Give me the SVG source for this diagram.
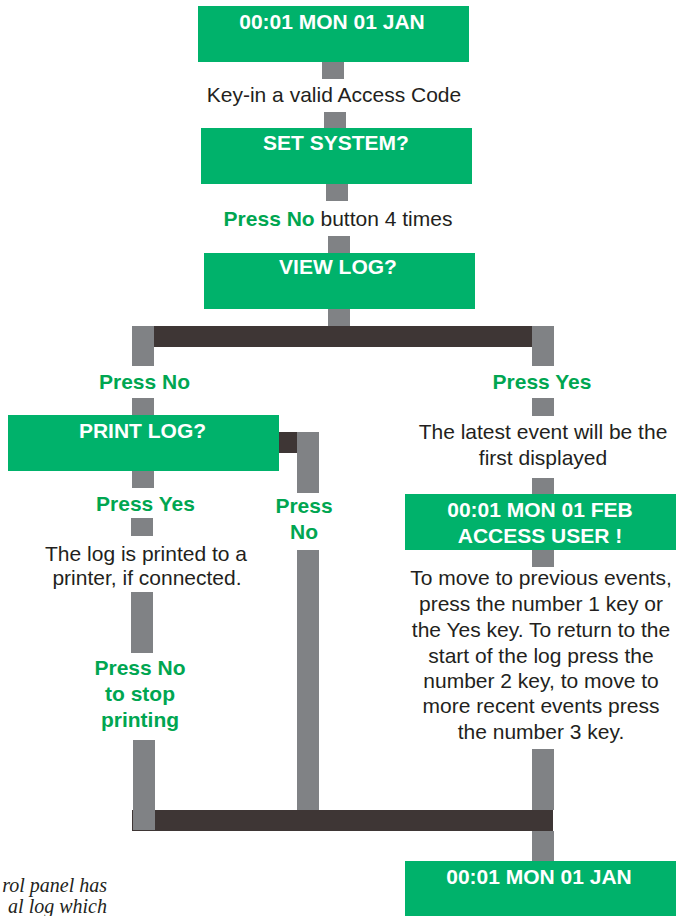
<svg xmlns="http://www.w3.org/2000/svg" width="679" height="916" viewBox="0 0 679 916">
<style>
.box{fill:#00b26b}
.t{font-family:"Liberation Sans",Arial,sans-serif;font-size:21px;text-anchor:middle}
.w{fill:#ffffff;font-weight:bold}
.g{fill:#00a651;font-weight:bold}
.d{fill:#231f20}
.c{fill:#808285}
.bar{fill:#3e3635}
.note{font-family:"Liberation Serif","Times New Roman",serif;font-style:italic;font-size:20px;fill:#231f20;text-anchor:end}
</style>
<rect width="679" height="916" fill="#ffffff"/>
<g id="connectors">
<rect class="c" x="322" y="60" width="22" height="19"/>
<rect class="c" x="324" y="112" width="22" height="17"/>
<rect class="c" x="326" y="183" width="22" height="18"/>
<rect class="c" x="328" y="236" width="22" height="18"/>
<rect class="c" x="328" y="308" width="22" height="19"/>
<rect class="bar" x="154" y="326" width="378" height="21"/>
<rect class="c" x="132" y="326" width="22" height="40"/>
<rect class="c" x="532" y="326" width="22" height="40"/>
<rect class="c" x="132" y="398" width="22" height="18"/>
<rect class="c" x="132" y="470" width="22" height="18"/>
<rect class="bar" x="278" y="432" width="20" height="21"/>
<rect class="c" x="297" y="432" width="22" height="61"/>
<rect class="c" x="131" y="518" width="22" height="18"/>
<rect class="c" x="131" y="592" width="22" height="61"/>
<rect class="c" x="532" y="398" width="22" height="18"/>
<rect class="c" x="532" y="478" width="22" height="17"/>
<rect class="c" x="532" y="549" width="22" height="18"/>
<rect class="c" x="532" y="749" width="22" height="61"/>
<rect class="c" x="297" y="550" width="22" height="260"/>
<rect class="bar" x="132" y="810" width="421" height="21"/>
<rect class="c" x="133" y="740" width="22" height="90"/>
<rect class="c" x="532" y="831" width="22" height="31"/>
</g>
<g id="n-start">
<rect class="box" x="198" y="6" width="271" height="56"/>
<text class="t w" x="332" y="29">00:01 MON 01 JAN</text>
</g>
<g id="n-keyin">
<text class="t d" x="334" y="102">Key-in a valid Access Code</text>
</g>
<g id="n-setsystem">
<rect class="box" x="201" y="128" width="271" height="56"/>
<text class="t w" x="336" y="150">SET SYSTEM?</text>
</g>
<g id="n-pressno4">
<text class="t d" x="338" y="226"><tspan class="g">Press No</tspan> button 4 times</text>
</g>
<g id="n-viewlog">
<rect class="box" x="204" y="253" width="271" height="56"/>
<text class="t w" x="338" y="274">VIEW LOG?</text>
</g>
<g id="n-pressno-left">
<text class="t g" x="144.5" y="389">Press No</text>
</g>
<g id="n-pressyes-right">
<text class="t g" x="542" y="389">Press Yes</text>
</g>
<g id="n-printlog">
<rect class="box" x="8" y="415" width="271" height="56"/>
<text class="t w" x="142.5" y="438">PRINT LOG?</text>
</g>
<g id="n-pressyes-left">
<text class="t g" x="145.5" y="511">Press Yes</text>
</g>
<g id="n-pressno-mid">
<text class="t g" x="304" y="513">Press</text>
<text class="t g" x="304" y="539">No</text>
</g>
<g id="n-printed">
<text class="t d" x="146" y="561">The log is printed to a</text>
<text class="t d" x="147" y="585">printer, if connected.</text>
</g>
<g id="n-stopprinting">
<text class="t g" x="140" y="675">Press No</text>
<text class="t g" x="140" y="701">to stop</text>
<text class="t g" x="140" y="727">printing</text>
</g>
<g id="n-latest">
<text class="t d" x="543" y="439">The latest event will be the</text>
<text class="t d" x="543" y="465">first displayed</text>
</g>
<g id="n-feb">
<rect class="box" x="405" y="494" width="271" height="56"/>
<text class="t w" x="540" y="517">00:01 MON 01 FEB</text>
<text class="t w" x="540" y="543">ACCESS USER !</text>
</g>
<g id="n-navigate">
<text class="t d" x="541" y="585">To move to previous events,</text>
<text class="t d" x="541" y="611">press the number 1 key or</text>
<text class="t d" x="541" y="637">the Yes key. To return to the</text>
<text class="t d" x="541" y="663">start of the log press the</text>
<text class="t d" x="541" y="688">number 2 key, to move to</text>
<text class="t d" x="541" y="713">more recent events press</text>
<text class="t d" x="541" y="739">the number 3 key.</text>
</g>
<g id="n-end">
<rect class="box" x="405" y="861" width="271" height="56"/>
<text class="t w" x="539" y="884">00:01 MON 01 JAN</text>
</g>
<g id="n-note">
<text class="note" x="107" y="892">rol panel has</text>
<text class="note" x="107" y="913">al log which</text>
</g>
</svg>
